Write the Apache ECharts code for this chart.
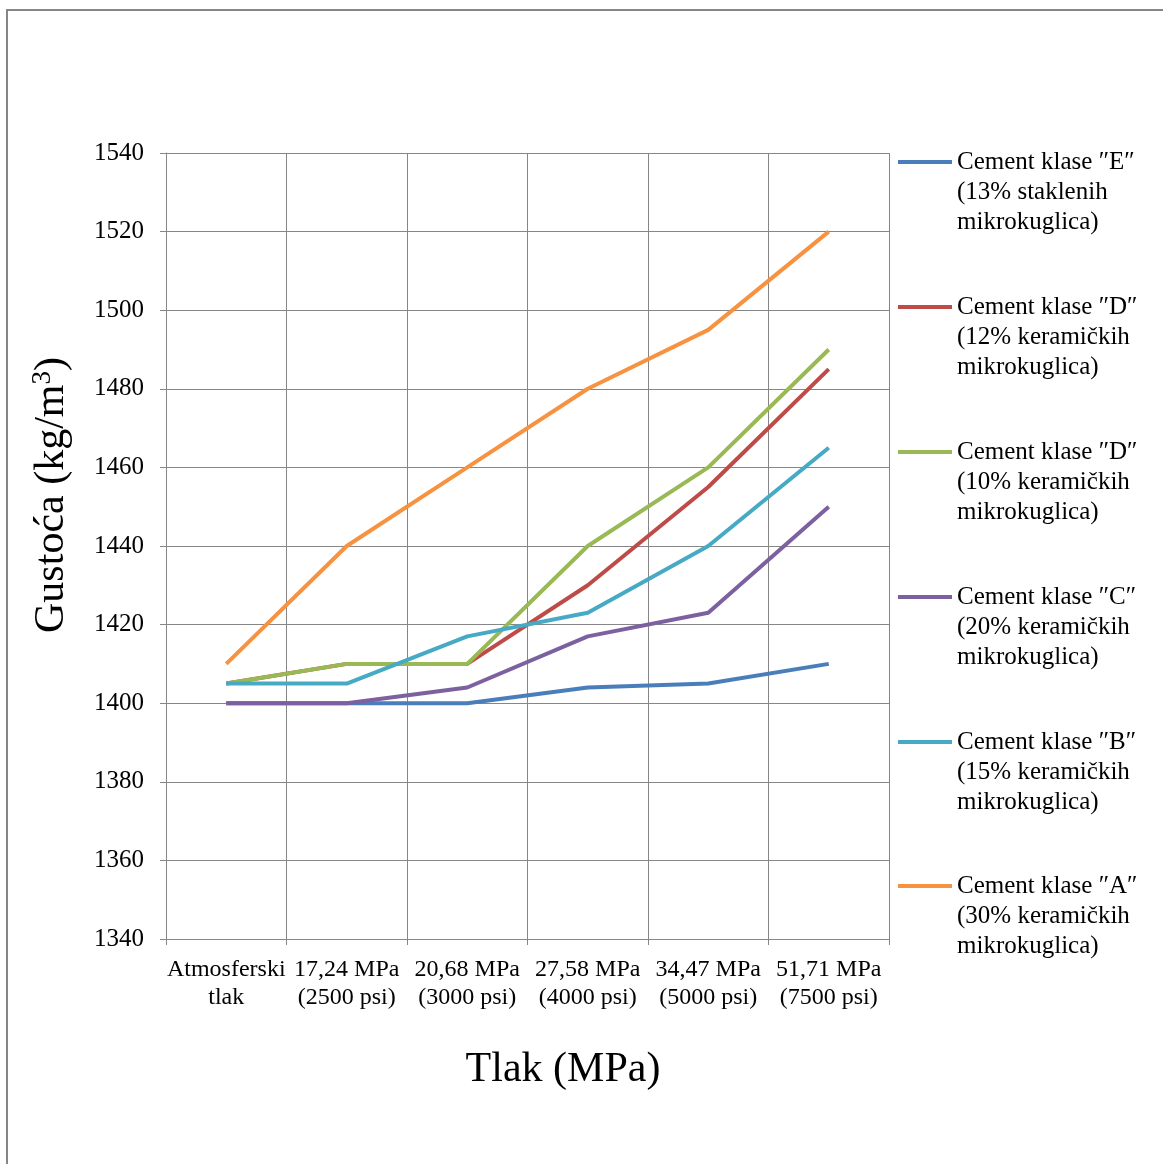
<!DOCTYPE html>
<html>
<head>
<meta charset="utf-8">
<script src="https://cdn.jsdelivr.net/npm/echarts@6/dist/echarts.min.js"></script>
<style>html,body{margin:0;padding:0;background:#fff}#c{width:1163px;height:1164px}</style>
</head>
<body>
<div id="c"></div>
<script>
var categories = ['Atmosferski\ntlak', '17,24 MPa\n(2500 psi)', '20,68 MPa\n(3000 psi)', '27,58 MPa\n(4000 psi)', '34,47 MPa\n(5000 psi)', '51,71 MPa\n(7500 psi)'];
var seriesNames = [
  'Cement klase \u2033E\u2033\n(13% staklenih\nmikrokuglica)',
  'Cement klase \u2033D\u2033\n(12% keramičkih\nmikrokuglica)',
  'Cement klase \u2033D\u2033\n(10% keramičkih\nmikrokuglica)',
  'Cement klase \u2033C\u2033\n(20% keramičkih\nmikrokuglica)',
  'Cement klase \u2033B\u2033\n(15% keramičkih\nmikrokuglica)',
  'Cement klase \u2033A\u2033\n(30% keramičkih\nmikrokuglica)'
];
var valuesE = [1400, 1400, 1400, 1404, 1405, 1410];
var valuesD12 = [1405, 1410, 1410, 1430, 1455, 1485];
var valuesD10 = [1405, 1410, 1410, 1440, 1460, 1490];
var valuesC = [1400, 1400, 1404, 1417, 1423, 1450];
var valuesB = [1405, 1405, 1417, 1423, 1440, 1465];
var valuesA = [1410, 1440, 1460, 1480, 1495, 1520];
var allValues = [valuesE, valuesD12, valuesD10, valuesC, valuesB, valuesA];
var colors = ['#4A7EBB', '#BE4B48', '#98B954', '#7D60A0', '#46AAC5', '#F69240'];
var yTicks = {min: 1340, max: 1540, interval: 20};
var yTitle = 'Gustoća (kg/m{sup|3})';
var xTitle = 'Tlak (MPa)';

var FONT = '"Liberation Serif", "Times New Roman", serif';
var GRID = '#868686';

var chart = echarts.init(document.getElementById('c'), null, {renderer: 'canvas'});

var legendCenters = [162, 307, 452, 597, 742, 886];
var legends = seriesNames.map(function (n, i) {
  return {
    data: [n],
    orient: 'vertical',
    left: 898,
    top: legendCenters[i] - 75,
    padding: 0,
    icon: 'rect',
    itemWidth: 54,
    itemHeight: 4,
    selectedMode: false,
    formatter: function (name) { return '\n\n' + name; },
    textStyle: {fontFamily: FONT, fontSize: 25, color: '#000', lineHeight: 30}
  };
});

var series = allValues.map(function (vals, i) {
  return {
    name: seriesNames[i],
    type: 'line',
    data: vals,
    symbol: 'none',
    showSymbol: false,
    lineStyle: {width: 4, color: colors[i]},
    itemStyle: {color: colors[i]},
    emphasis: {disabled: true},
    animation: false
  };
});

chart.setOption({
  animation: false,
  color: colors,
  grid: {left: 166, top: 153, right: 274, bottom: 225, containLabel: false},
  legend: legends,
  xAxis: {
    type: 'category',
    data: categories,
    boundaryGap: true,
    axisLine: {show: true, lineStyle: {color: GRID, width: 1}},
    axisTick: {show: true, length: 6, inside: false, lineStyle: {color: GRID}},
    splitLine: {show: true, lineStyle: {color: GRID, width: 1}},
    axisLabel: {fontFamily: FONT, fontSize: 24, color: '#000', lineHeight: 28, margin: 17, interval: 0}
  },
  yAxis: {
    type: 'value',
    min: yTicks.min,
    max: yTicks.max,
    interval: yTicks.interval,
    axisLine: {show: true, lineStyle: {color: GRID, width: 1}},
    axisTick: {show: true, length: 6, inside: false, lineStyle: {color: GRID}},
    splitLine: {show: true, lineStyle: {color: GRID, width: 1}},
    axisLabel: {fontFamily: FONT, fontSize: 25, color: '#000', margin: 22, formatter: function (v) { return String(v); }}
  },
  series: series,
  graphic: [
    {type: 'rect', shape: {x: 7, y: 10, width: 3000, height: 3000}, style: {fill: 'none', stroke: GRID, lineWidth: 2}, silent: true},
    {type: 'text', x: 52, y: 495, rotation: Math.PI / 2, silent: true,
      style: {text: yTitle, fontFamily: FONT, fontSize: 42, fill: '#000', align: 'center', verticalAlign: 'middle',
        rich: {sup: {fontFamily: FONT, fontSize: 27, fill: '#000', verticalAlign: 'top', padding: [0, 0, 18, 0]}}}},
    {type: 'text', x: 563, y: 1070, silent: true,
      style: {text: xTitle, fontFamily: FONT, fontSize: 42, fill: '#000', align: 'center', verticalAlign: 'middle'}}
  ]
});
</script>
</body>
</html>
